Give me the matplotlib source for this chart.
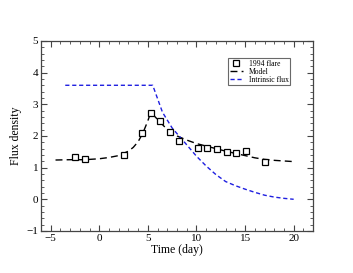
import matplotlib
matplotlib.use("Agg")
import matplotlib.pyplot as plt
from matplotlib.ticker import MultipleLocator

plt.rcParams['font.family'] = ['Liberation Serif', 'DejaVu Serif']

# 1994 flare observations
obs_t = [-2.5, -1.5, 2.5, 4.35, 5.3, 6.25, 7.25, 8.2, 10.15, 11.1, 12.1, 13.1, 14.1, 15.05, 17.05]
obs_f = [1.32, 1.27, 1.40, 2.09, 2.74, 2.48, 2.11, 1.85, 1.63, 1.62, 1.59, 1.48, 1.45, 1.53, 1.17]

# model light curve
model_t = [-4.5, -3, -1.5, 0, 1, 2, 3, 3.5, 4, 4.5, 5, 5.3, 6, 7, 8, 9, 10, 11, 12, 13, 14, 15, 16, 17, 18, 19, 20]
model_f = [1.24, 1.25, 1.25, 1.28, 1.32, 1.38, 1.52, 1.64, 1.82, 2.1, 2.48, 2.75, 2.52, 2.2, 2.0, 1.87, 1.76, 1.68, 1.6, 1.52, 1.45, 1.38, 1.31, 1.26, 1.23, 1.21, 1.19]

# intrinsic flux
intr_t = [-3.5, 5.5, 6.5, 7.5, 9, 10, 11, 12, 13, 14, 15, 16, 17, 18, 19, 20]
intr_f = [3.6, 3.6, 2.75, 2.25, 1.72, 1.36, 1.05, 0.78, 0.56, 0.43, 0.32, 0.22, 0.13, 0.07, 0.03, 0.0]

fig = plt.figure(figsize=(3.53, 2.73), dpi=100)
ax = fig.add_axes([0.116, 0.154, 0.771, 0.696])

ax.plot(model_t, model_f, color='black', lw=1.0, dashes=(5, 3), label='Model', zorder=2)
ax.plot(intr_t, intr_f, color='#1f1fe0', lw=1.0, dashes=(3, 2), label='Intrinsic flux', zorder=2)
ax.plot(obs_t, obs_f, ls='none', marker='s', ms=5, mfc='white', mec='black', mew=0.9,
        label='1994 flare', zorder=3)

ax.set_xlim(-6, 22)
ax.set_ylim(-1, 5)
ax.xaxis.set_major_locator(MultipleLocator(5))
ax.xaxis.set_minor_locator(MultipleLocator(1))
ax.yaxis.set_major_locator(MultipleLocator(1))
ax.yaxis.set_minor_locator(MultipleLocator(0.2))
ax.tick_params(which='both', direction='in', top=True, right=True, labelsize=8, pad=2,
               color='#444444')
ax.tick_params(which='major', length=4, width=0.8)
ax.tick_params(which='minor', length=2, width=0.6)
for s in ax.spines.values():
    s.set_linewidth(0.9)
    s.set_color('#444444')

ax.set_xlabel('Time (day)', fontsize=8.5, labelpad=1)
ax.set_ylabel('Flux density', fontsize=8.5, labelpad=3)

h, l = ax.get_legend_handles_labels()
order = [2, 0, 1]
leg = ax.legend([h[i] for i in order], [l[i] for i in order], loc='upper right',
                bbox_to_anchor=(0.93, 0.93), fontsize=5.5, frameon=True, fancybox=False,
                edgecolor='#444444', handlelength=1.8, handletextpad=0.7, borderpad=0.2,
                labelspacing=0.0, markerscale=0.9)
leg.get_frame().set_linewidth(0.8)

fig.savefig('out.png', dpi=100)
